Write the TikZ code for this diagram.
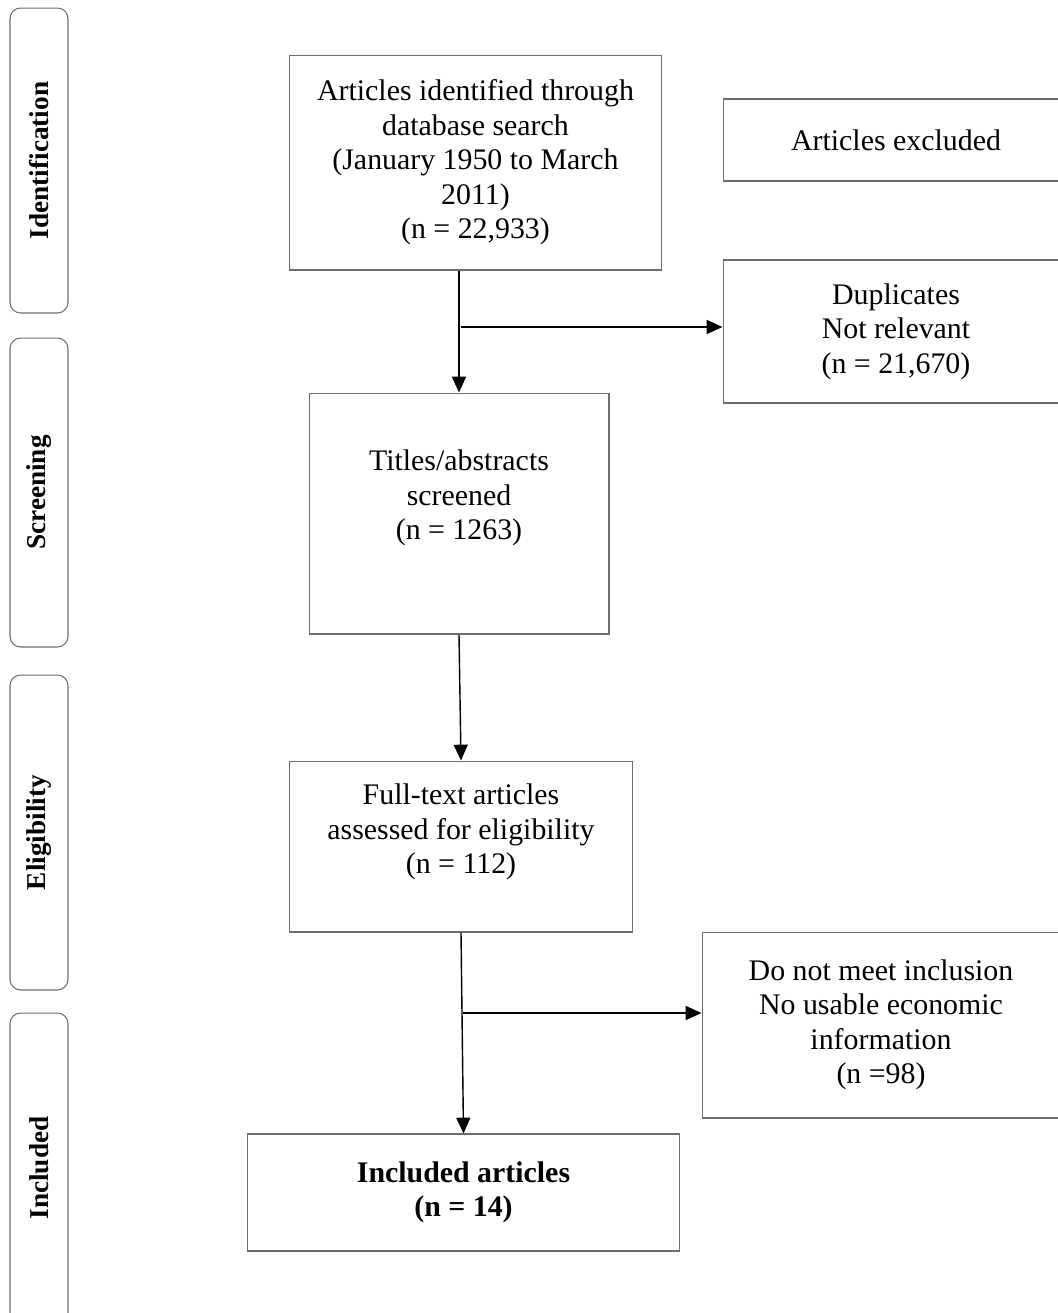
\documentclass[tikz,border=0pt]{standalone}
\usepackage{fontspec}
\setmainfont{Liberation Serif}
\usetikzlibrary{arrows.meta}

\definecolor{boxgray}{HTML}{6E6E6E}

\tikzset{
    box/.style = {draw = boxgray, line width = 0.6pt, rectangle, align = center, inner sep = 0pt},
    txt/.style = {align = center, inner sep = 0pt, font = \fontsize{17}{19.6}\selectfont},
    stage/.style = {draw = boxgray, line width = 0.6pt, rectangle, rounded corners = 6pt, rotate = 90,
        minimum height = 1.16cm, inner sep = 0pt, font = \fontsize{15.5}{18}\selectfont\bfseries},
    flow/.style = {-{Triangle[length = 9pt, width = 8pt]}, line width = 0.8pt, black},
}

\begin{document}
\begin{tikzpicture}[x = 0.02cm, y = -0.02cm]
    \useasboundingbox (0, 0) rectangle (1058, 1313);
    \clip (0, 0) rectangle (1058, 1313);

    % phases
    \node (ident) [stage, minimum width = 6.1cm] at (39, 160.5) {Identification};
    \node (screen) [stage, minimum width = 6.18cm] at (39, 492.5) {Screening};
    \node (elig) [stage, minimum width = 6.3cm] at (39, 832.5) {Eligibility};
    \node (incl) [stage, minimum width = 6.2cm] at (39, 1168) {Included};

    % boxes
    \node (found) [box, txt, minimum width = 7.46cm, minimum height = 4.3cm] at (475.5, 162.5)
        {Articles identified through\\database search\\(January 1950 to March\\2011)\\(n = 22,933)};
    \node (excl) [box, txt, minimum width = 6.92cm, minimum height = 1.64cm] at (896, 140)
        {Articles excluded};
    \node (dup) [box, txt, minimum width = 6.92cm, minimum height = 2.86cm] at (896, 331.5)
        {Duplicates\\Not relevant\\(n = 21,670)};

    \node (titles) [box, minimum width = 6cm, minimum height = 4.82cm] at (459, 513.5) {};
    \node (titlestext) [txt] at (459, 498) {Titles/abstracts\\screened\\(n = 1263)};

    \node (full) [box, minimum width = 6.88cm, minimum height = 3.42cm] at (461, 846.5) {};
    \node (fulltext) [txt] at (461, 832) {Full-text articles\\assessed for eligibility\\(n = 112)};

    \node (nomeet) [box, txt, minimum width = 7.16cm, minimum height = 3.72cm] at (881, 1025)
        {Do not meet inclusion\\No usable economic\\information\\(n =98)};

    \node (final) [box, txt, font = \fontsize{17}{19.6}\selectfont\bfseries,
        minimum width = 8.66cm, minimum height = 2.34cm] at (463.5, 1192.5)
        {Included articles\\(n = 14)};

    \coordinate (split1) at (461, 327);
    \coordinate (split2) at (463, 1013);

    \draw[flow] (titles.north |- found.south) -- (titles.north);
    \draw[flow] (split1) -- (split1 -| dup.west);
    \draw[flow] (titles.south) -- (full.north);
    \draw[flow] (full.south) -- (final.north);
    \draw[flow] (split2) -- (split2 -| nomeet.west);

\end{tikzpicture}
\end{document}
